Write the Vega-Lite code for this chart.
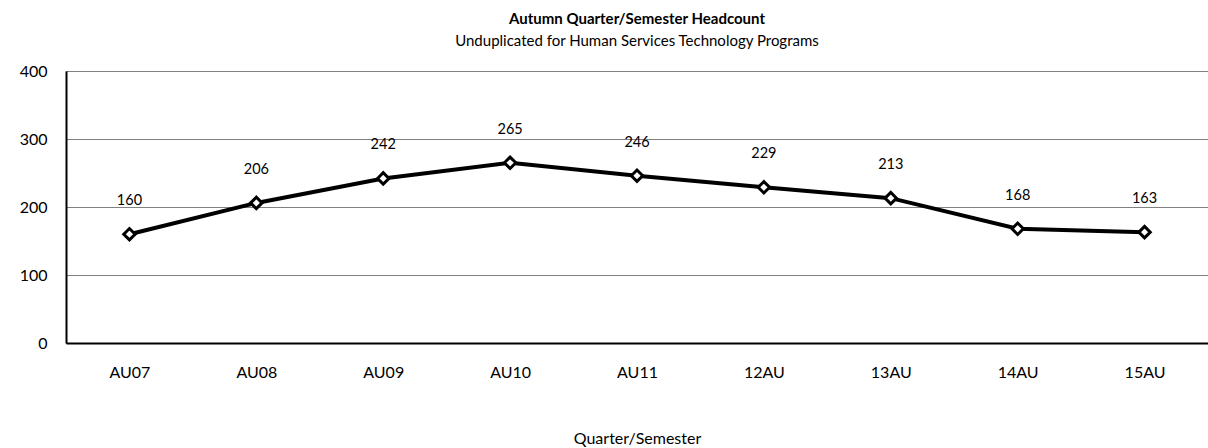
{
  "$schema": "https://vega.github.io/schema/vega-lite/v6.json",
  "width": 1142,
  "height": 272,
  "autosize": {"type": "none"},
  "padding": {"left": 66, "top": 71, "right": 0, "bottom": 105},
  "background": "white",
  "config": {
    "font": "Lato",
    "view": {"stroke": null}
  },
  "title": {
    "text": "Autumn Quarter/Semester Headcount",
    "subtitle": "Unduplicated for Human Services Technology Programs",
    "font": "Lato",
    "fontSize": 15,
    "fontWeight": "bold",
    "subtitleFont": "Lato",
    "subtitleFontSize": 15,
    "subtitleColor": "#000000",
    "color": "#000000",
    "subtitlePadding": 7,
    "anchor": "middle",
    "offset": 14
  },
  "data": {
    "values": [
      {"term": "AU07", "headcount": 160},
      {"term": "AU08", "headcount": 206},
      {"term": "AU09", "headcount": 242},
      {"term": "AU10", "headcount": 265},
      {"term": "AU11", "headcount": 246},
      {"term": "12AU", "headcount": 229},
      {"term": "13AU", "headcount": 213},
      {"term": "14AU", "headcount": 168},
      {"term": "15AU", "headcount": 163}
    ]
  },
  "encoding": {
    "x": {
      "field": "term",
      "type": "ordinal",
      "sort": null,
      "scale": {"paddingInner": 0, "paddingOuter": 0.5},
      "axis": {
        "title": "Quarter/Semester",
        "titleFont": "Lato",
        "titleFontSize": 16,
        "titleFontWeight": "normal",
        "titleColor": "#000000",
        "titlePadding": 50,
        "labelAngle": 0,
        "labelFontSize": 16,
        "labelColor": "#000000",
        "labelPadding": 21,
        "ticks": false,
        "domainColor": "#000000",
        "domainWidth": 2,
        "grid": false
      }
    },
    "y": {
      "field": "headcount",
      "type": "quantitative",
      "scale": {"domain": [0, 400], "nice": false},
      "axis": {
        "title": null,
        "values": [0, 100, 200, 300, 400],
        "labelFontSize": 16,
        "labelColor": "#000000",
        "labelPadding": 19,
        "ticks": false,
        "domainColor": "#000000",
        "domainWidth": 2,
        "grid": true,
        "gridColor": "#000000",
        "gridWidth": 1,
        "gridDash": [1, 1]
      }
    }
  },
  "layer": [
    {
      "mark": {"type": "line", "color": "#000000", "strokeWidth": 4}
    },
    {
      "mark": {"type": "point", "shape": "diamond", "filled": true, "fill": "#ffffff", "stroke": "#000000", "strokeWidth": 3, "size": 130, "opacity": 1}
    },
    {
      "mark": {"type": "text", "dy": -33, "fontSize": 14.5, "color": "#000000", "font": "Lato"},
      "encoding": {"text": {"field": "headcount", "type": "quantitative"}}
    }
  ]
}
